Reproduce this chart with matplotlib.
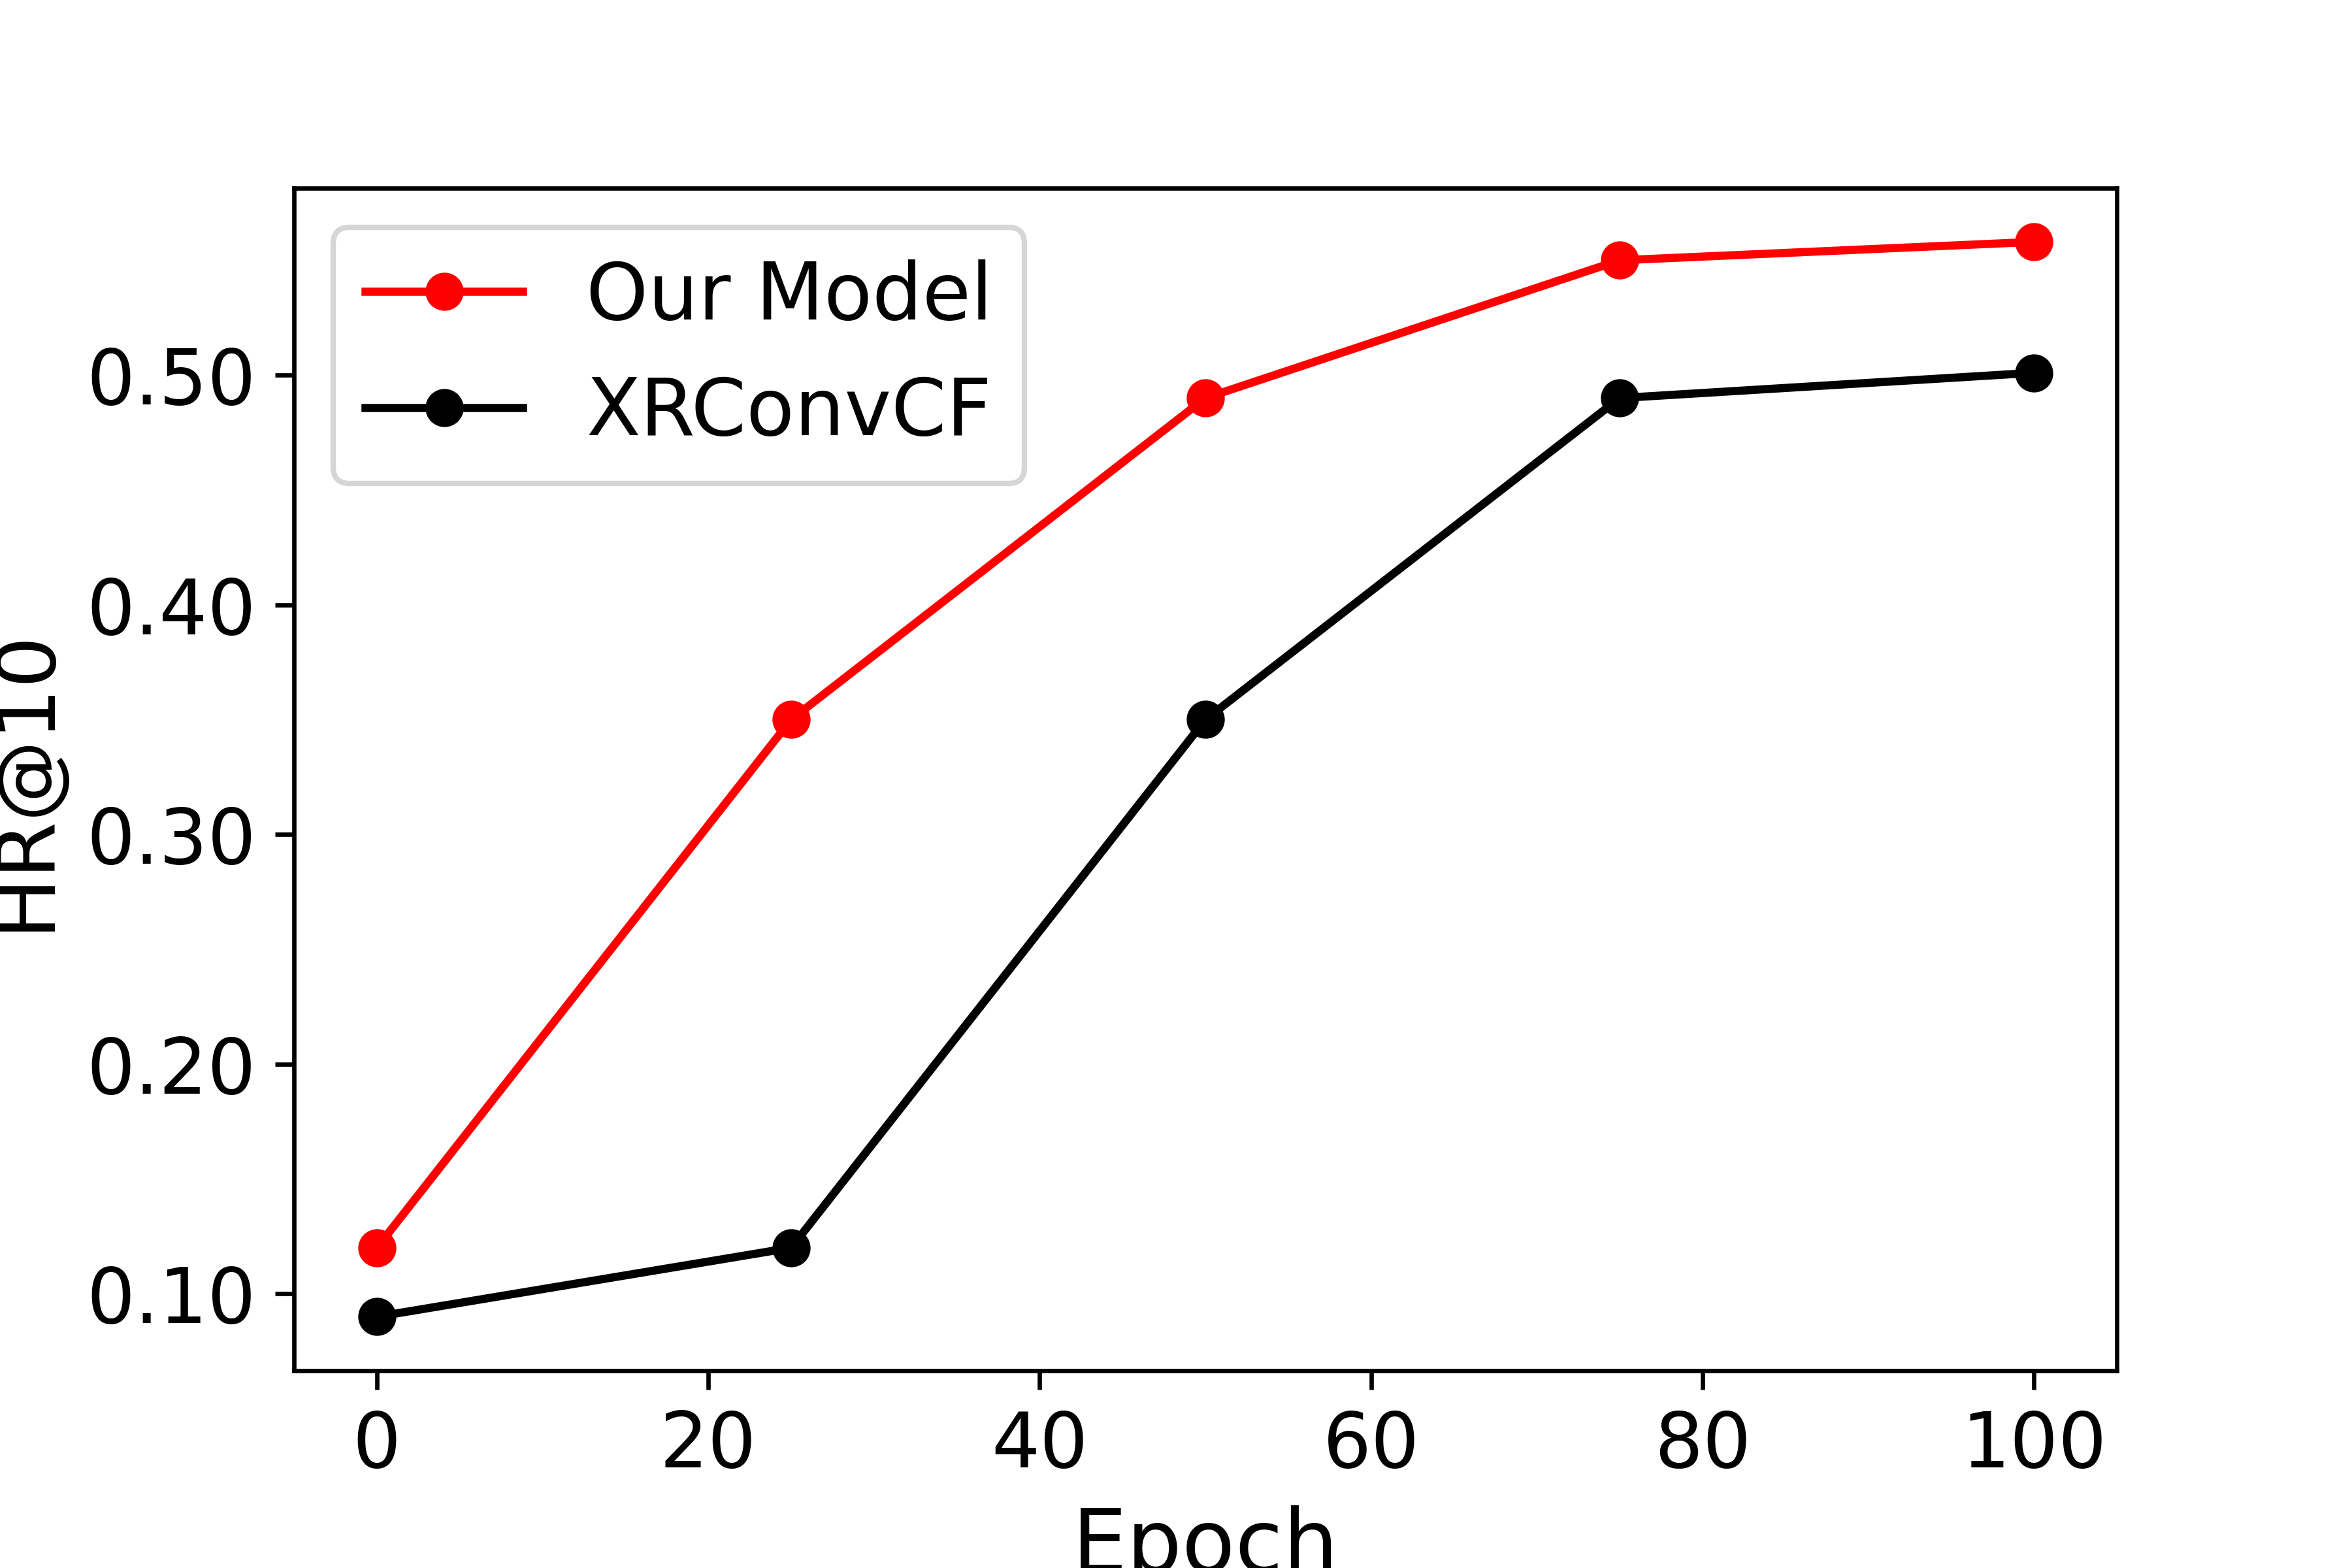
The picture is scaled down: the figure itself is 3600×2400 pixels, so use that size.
import numpy as np
import matplotlib.pyplot as plt

# data
epochs = [0, 25, 50, 75, 100]
our_model = [0.12, 0.35, 0.49, 0.55, 0.558]
xrconvcf = [0.09, 0.12, 0.35, 0.49, 0.501]
yticks = [0.10, 0.20, 0.30, 0.40, 0.50]

fig = plt.figure(figsize=(6, 4), dpi=600)
ax = fig.add_axes([0.125, 0.126, 0.775, 0.754])

ax.plot(epochs, our_model, 'o-', color='red', label='Our Model')
ax.plot(epochs, xrconvcf, 'o-', color='black', label='XRConvCF')

ax.set_yticks(yticks)
ax.set_yticklabels(['%.2f' % v for v in yticks])
ax.tick_params(labelsize=14)
ax.set_xlabel('Epoch', fontsize=16)
ax.set_ylabel('HR@10', fontsize=15)
ax.legend(loc='upper left', fontsize=14.5)

fig.savefig('out.png', dpi=600)
